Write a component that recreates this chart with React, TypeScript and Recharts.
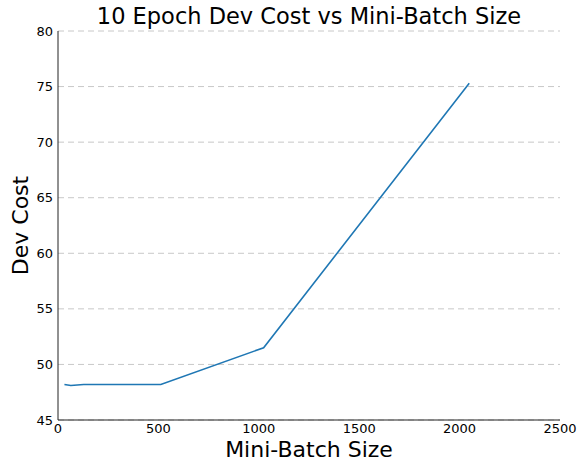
import React from 'react';
import { LineChart, Line, XAxis, YAxis, CartesianGrid, Label } from 'recharts';

const batchSizes = [32, 64, 128, 256, 512, 1024, 2048];
const devCost = [48.2, 48.1, 48.2, 48.2, 48.2, 51.5, 75.3];
const xTicks = [0, 500, 1000, 1500, 2000, 2500];
const yTicks = [45, 50, 55, 60, 65, 70, 75, 80];

const data = batchSizes.map((size, i) => ({ size, cost: devCost[i] }));

const FONT = '"DejaVu Sans", sans-serif';

export default function App() {
    return (
        <div style={{ position: 'absolute', left: 0, top: 0, width: 580, height: 463, background: '#fff', fontFamily: FONT }}>
            <div
                style={{
                    position: 'absolute',
                    left: 58,
                    width: 502,
                    top: 3,
                    textAlign: 'center',
                    fontSize: 22.5,
                    lineHeight: '26px',
                    color: '#000',
                }}
            >
                10 Epoch Dev Cost vs Mini-Batch Size
            </div>
            <LineChart
                width={580}
                height={463}
                data={data}
                margin={{ top: 31, right: 20, left: 57, bottom: 42 }}
            >
                <CartesianGrid vertical={false} strokeDasharray="6 4" stroke="#c8c8c8" />
                <XAxis
                    dataKey="size"
                    type="number"
                    domain={[0, 2500]}
                    ticks={xTicks}
                    height={1}
                    tickLine={false}
                    tickSize={0}
                    tickMargin={4}
                    stroke="#222"
                    tick={{ fill: '#000', fontSize: 13, fontFamily: FONT }}
                >
                    <Label
                        value="Mini-Batch Size"
                        position="bottom"
                        offset={20}
                        style={{ fontSize: 22, fill: '#000', fontFamily: FONT }}
                    />
                </XAxis>
                <YAxis
                    type="number"
                    domain={[45, 80]}
                    ticks={yTicks}
                    width={1}
                    tickLine={false}
                    tickSize={0}
                    tickMargin={5}
                    stroke="#222"
                    tick={{ fill: '#000', fontSize: 13, fontFamily: FONT }}
                >
                    <Label
                        value="Dev Cost"
                        angle={-90}
                        position="left"
                        offset={37}
                        style={{ fontSize: 22, fill: '#000', fontFamily: FONT, textAnchor: 'middle' }}
                    />
                </YAxis>
                <Line
                    type="linear"
                    dataKey="cost"
                    stroke="#1f77b4"
                    strokeWidth={1.6}
                    dot={false}
                    isAnimationActive={false}
                />
            </LineChart>
        </div>
    );
}
